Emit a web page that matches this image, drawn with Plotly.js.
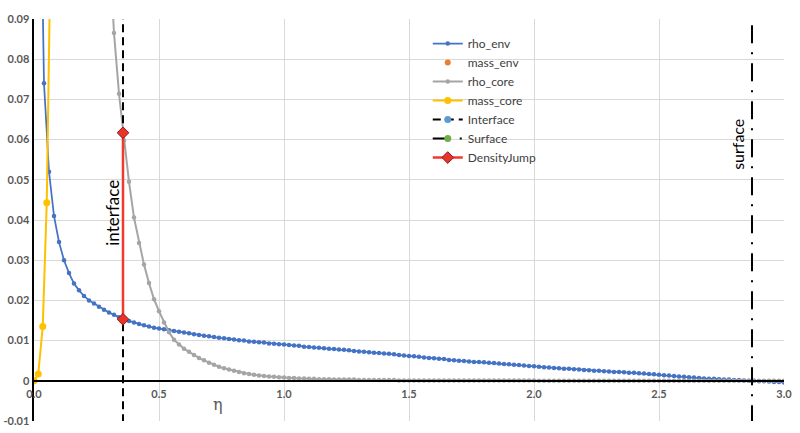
<!DOCTYPE html>
<html>
<head>
<meta charset="utf-8">
<script src="https://cdn.plot.ly/plotly-3.0.1.min.js"></script>
<style>html,body{margin:0;padding:0;background:#fff;}#chart{width:800px;height:433px;}</style>
</head>
<body>
<div id="chart"></div>
<script>
const eta = [
0.02,0.04,0.06,0.08,0.10,0.12,0.14,0.16,0.18,0.20,
0.22,0.24,0.26,0.28,0.30,0.32,0.34,0.36,0.38,0.40,
0.42,0.44,0.46,0.48,0.50,0.52,0.54,0.56,0.58,0.60,
0.62,0.64,0.66,0.68,0.70,0.72,0.74,0.76,0.78,0.80,
0.82,0.84,0.86,0.88,0.90,0.92,0.94,0.96,0.98,1.00,
1.02,1.04,1.06,1.08,1.10,1.12,1.14,1.16,1.18,1.20,
1.22,1.24,1.26,1.28,1.30,1.32,1.34,1.36,1.38,1.40,
1.42,1.44,1.46,1.48,1.50,1.52,1.54,1.56,1.58,1.60,
1.62,1.64,1.66,1.68,1.70,1.72,1.74,1.76,1.78,1.80,
1.82,1.84,1.86,1.88,1.90,1.92,1.94,1.96,1.98,2.00,
2.02,2.04,2.06,2.08,2.10,2.12,2.14,2.16,2.18,2.20,
2.22,2.24,2.26,2.28,2.30,2.32,2.34,2.36,2.38,2.40,
2.42,2.44,2.46,2.48,2.50,2.52,2.54,2.56,2.58,2.60,
2.62,2.64,2.66,2.68,2.70,2.72,2.74,2.76,2.78,2.80,
2.82,2.84,2.86,2.88,2.90,2.92,2.94,2.96,2.98,3.00];

const rhoEnv = [
0.150,0.0740,0.0520,0.0410,0.0345,0.0300,0.0268,0.0242,0.0225,0.0211,
0.0200,0.0192,0.0184,0.0177,0.0170,0.0164,0.0158,0.0153,0.0149,0.0145,
0.0141,0.0138,0.0135,0.0132,0.0130,0.0128,0.0126,0.0124,0.0122,0.0120,
0.0118,0.0116,0.0114,0.0112,0.0111,0.0109,0.0107,0.0106,0.0104,0.0103,
0.0101,0.0100,0.0098,0.0097,0.0096,0.0095,0.0093,0.0092,0.0091,0.0090,
0.0089,0.0088,0.0087,0.0085,0.0084,0.0083,0.0082,0.0081,0.0080,0.0079,
0.0078,0.0077,0.0076,0.0074,0.0073,0.0072,0.0071,0.0070,0.0069,0.0068,
0.0067,0.0066,0.0064,0.0063,0.0062,0.0061,0.0060,0.0058,0.0057,0.0056,
0.0055,0.0054,0.0052,0.0051,0.0050,0.0049,0.0048,0.0047,0.0047,0.0046,
0.0045,0.0044,0.0043,0.0042,0.0041,0.0040,0.0039,0.0038,0.0037,0.0036,
0.0035,0.0034,0.0033,0.0032,0.0031,0.0030,0.0030,0.0029,0.0028,0.0027,
0.0026,0.0025,0.0025,0.0024,0.0023,0.0022,0.0022,0.0021,0.0020,0.0020,
0.0019,0.0018,0.0017,0.0016,0.0015,0.0014,0.0013,0.0012,0.0011,0.0010,
0.0009,0.0008,0.0007,0.0006,0.0005,0.0005,0.0004,0.0003,0.0003,0.0002,
0.0002,0.0001,0.0000,0.0000,-0.0001,-0.0001,-0.0002,-0.0003,-0.0003,-0.0004];

// rho_core starts at eta = 0.30
const etaCore = eta.slice(14);
const rhoCore = [
0.110,0.0865,0.0714,0.0598,0.0495,0.0406,0.0343,0.0289,0.0243,0.0203,
0.0173,0.0145,0.0121,0.0102,0.0090,0.0080,0.0072,0.0064,0.0057,0.0051,
0.0045,0.0040,0.0035,0.0031,0.0028,0.0025,0.0022,0.0019,0.0017,0.0015,
0.0013,0.0012,0.0011,0.0010,0.0009,0.0008,
0.0007,0.0007,0.0006,0.0006,0.0005,
0.0005,0.0004,0.0004,0.0004,0.0003,
0.0003,0.0003,0.0003,0.0003,0.0002,
0.0002,0.0002,0.0002,0.0002,0.0002,
0.0002,0.0002,0.0001,0.0001,0.0001,
0.0001,0.0001,0.0001,0.0001,0.0001,0.0001,0.0001,0.0001,0.0001,0.0001,
0.0001,0.0001,0.0001,0.0001,0.0001,0.0001,0.0001,0.0001,0.0001,0.0001,
0.0001,0.0001,0.0001,0.0001,0.0001,
0,0,0,0,0,0,0,0,0,0,0,0,0,0,0,0,0,0,0,0,0,0,0,0,0,
0,0,0,0,0,0,0,0,0,0,0,0,0,0,0,0,0,0,0,0,0,0,0,0,0];

const etaMassCore = [0, 0.017, 0.035, 0.051, 0.068];
const massCore = [0, 0.0017, 0.0135, 0.0443, 0.115];

// mass_env has no point inside the visible range (legend entry only)
const etaMassEnv = [null];
const massEnv = [null];

const etaInterface = [0.356, 0.356];
const yInterface = [-0.02, 0.10];
const etaSurface = [2.872, 2.872];
const ySurface = [-0.02, 0.10];

const etaJump = [0.356, 0.356];
const rhoJump = [0.0153, 0.0617];

const xTickVals = [0, 0.5, 1.0, 1.5, 2.0, 2.5, 3.0];
const xTickLabels = ['0.0', '0.5', '1.0', '1.5', '2.0', '2.5', '3.0'];
const yTickVals = [-0.01, 0, 0.01, 0.02, 0.03, 0.04, 0.05, 0.06, 0.07, 0.08, 0.09];
const yTickLabels = ['-0.01', '0', '0.01', '0.02', '0.03', '0.04', '0.05', '0.06', '0.07', '0.08', '0.09'];

const FONT = 'Lato, "Open Sans", sans-serif';

const traces = [
  {name: 'rho_env', x: eta, y: rhoEnv, mode: 'lines+markers',
   line: {color: '#4472C4', width: 1.75}, marker: {color: '#4472C4', size: 4.5}},
  {name: 'mass_env', x: etaMassEnv, y: massEnv, mode: 'markers',
   marker: {color: '#ED7D31', size: 6}},
  {name: 'rho_core', x: etaCore, y: rhoCore, mode: 'lines+markers',
   line: {color: '#A5A5A5', width: 2}, marker: {color: '#A5A5A5', size: 4.5}},
  {name: 'mass_core', x: etaMassCore, y: massCore, mode: 'lines+markers',
   line: {color: '#FFC000', width: 2}, marker: {color: '#FFC000', size: 7}},
  {name: 'Interface', x: etaInterface, y: yInterface, mode: 'lines+markers',
   line: {color: '#000000', width: 2, dash: '8px,5px'}, marker: {color: '#5B9BD5', size: 7}},
  {name: 'Surface', x: etaSurface, y: ySurface, mode: 'lines+markers',
   line: {color: '#000000', width: 2, dash: '18px,9px,2px,9px'}, marker: {color: '#70AD47', size: 7}},
  {name: 'DensityJump', x: etaJump, y: rhoJump, mode: 'lines+markers',
   line: {color: '#F23A2C', width: 2.5},
   marker: {color: '#E8322A', size: 9, symbol: 'diamond', line: {color: '#8E1B16', width: 1}}}
];

const layout = {
  width: 800, height: 433,
  margin: {l: 34, r: 16, t: 19, b: 12},
  paper_bgcolor: '#ffffff', plot_bgcolor: '#ffffff',
  font: {family: FONT, color: '#595959'},
  showlegend: true,
  legend: {x: 0.525, y: 0.975, xanchor: 'left', yanchor: 'top', itemwidth: 30,
           font: {family: FONT, size: 12, color: '#404040'}, bgcolor: 'rgba(0,0,0,0)'},
  xaxis: {range: [0, 3.0], tickvals: xTickVals, ticktext: xTickLabels,
          anchor: 'free', position: 0.1,
          showgrid: true, gridcolor: '#D9D9D9', gridwidth: 1,
          showline: true, linecolor: '#000000', linewidth: 2,
          zeroline: false, ticks: '', ticklabelstandoff: 3,
          tickfont: {family: FONT, size: 11, color: '#595959', weight: 'bold'}},
  yaxis: {range: [-0.01, 0.09], tickvals: yTickVals, ticktext: yTickLabels,
          showgrid: true, gridcolor: '#D9D9D9', gridwidth: 1,
          showline: true, linecolor: '#000000', linewidth: 2.5,
          zeroline: false, ticks: '',
          tickfont: {family: FONT, size: 11, color: '#595959', weight: 'bold'}},
  annotations: [
    {x: 0.316, y: 0.0418, xref: 'x', yref: 'y', text: 'interface', showarrow: false,
     textangle: -90, font: {family: FONT, size: 17, color: '#000000'}},
    {x: 2.816, y: 0.0587, xref: 'x', yref: 'y', text: 'surface', showarrow: false,
     textangle: -90, font: {family: FONT, size: 16, color: '#000000'}},
    {x: 0.736, y: -0.006, xref: 'x', yref: 'y', text: 'η', showarrow: false,
     font: {family: '"DejaVu Serif", serif', size: 16, color: '#595959'}}
  ]
};

Plotly.newPlot('chart', traces, layout, {displayModeBar: false, staticPlot: true});
</script>
</body>
</html>
